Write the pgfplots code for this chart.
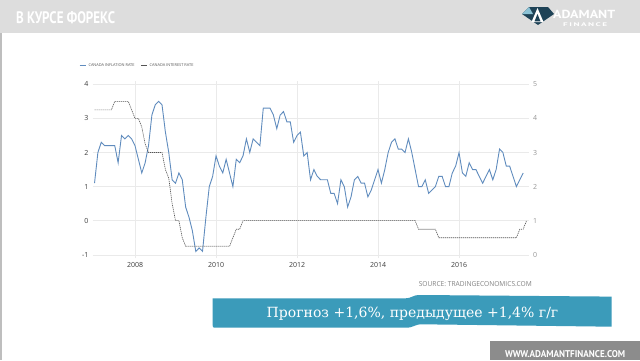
\documentclass[border=0pt]{standalone}
\usepackage{fontspec}
\setmainfont{Open Sans}
\newfontfamily\ptsans{PT Sans}
\newfontfamily\serifru{DejaVu Serif}
\usepackage{pgfplots}
\usepackage{pgfplotstable}
\pgfplotsset{compat=1.18}
\definecolor{headergray}{RGB}{221,221,221}
\definecolor{stripgray}{RGB}{190,190,190}
\definecolor{bannerblue}{RGB}{59,155,186}
\definecolor{footergray}{RGB}{140,140,140}
\definecolor{inflcol}{RGB}{96,140,190}
\definecolor{ratecol}{RGB}{85,85,85}
\definecolor{gridgray}{RGB}{234,234,234}
\definecolor{tickdark}{RGB}{60,60,60}
\definecolor{tickright}{RGB}{150,150,150}
\definecolor{srcgray}{RGB}{130,130,130}
\definecolor{gemdark}{RGB}{31,67,87}
\definecolor{gemlight}{RGB}{140,195,214}

\pgfplotstableread{
i infl rate
0 1.1 4.25
1 2.0 4.25
2 2.3 4.25
3 2.2 4.25
4 2.2 4.25
5 2.2 4.25
6 2.2 4.5
7 1.7 4.5
8 2.5 4.5
9 2.4 4.5
10 2.5 4.5
11 2.4 4.25
12 2.2 4.0
13 1.8 4.0
14 1.4 3.75
15 1.7 3.25
16 2.2 3.0
17 3.1 3.0
18 3.4 3.0
19 3.5 3.0
20 3.4 3.0
21 2.6 2.5
22 2.0 2.25
23 1.2 1.5
24 1.1 1.0
25 1.4 1.0
26 1.2 0.5
27 0.4 0.25
28 0.1 0.25
29 -0.3 0.25
30 -0.9 0.25
31 -0.8 0.25
32 -0.9 0.25
33 0.1 0.25
34 1.0 0.25
35 1.3 0.25
36 1.9 0.25
37 1.6 0.25
38 1.4 0.25
39 1.8 0.25
40 1.4 0.25
41 1.0 0.5
42 1.8 0.75
43 1.7 0.75
44 1.9 1.0
45 2.4 1.0
46 2.0 1.0
47 2.4 1.0
48 2.3 1.0
49 2.2 1.0
50 3.3 1.0
51 3.3 1.0
52 3.3 1.0
53 3.1 1.0
54 2.7 1.0
55 3.1 1.0
56 3.2 1.0
57 2.9 1.0
58 2.9 1.0
59 2.3 1.0
60 2.5 1.0
61 2.6 1.0
62 1.9 1.0
63 2.0 1.0
64 1.2 1.0
65 1.5 1.0
66 1.3 1.0
67 1.2 1.0
68 1.2 1.0
69 1.2 1.0
70 0.8 1.0
71 0.8 1.0
72 0.5 1.0
73 1.2 1.0
74 1.0 1.0
75 0.4 1.0
76 0.7 1.0
77 1.2 1.0
78 1.3 1.0
79 1.1 1.0
80 1.1 1.0
81 0.7 1.0
82 0.9 1.0
83 1.2 1.0
84 1.5 1.0
85 1.1 1.0
86 1.5 1.0
87 2.0 1.0
88 2.3 1.0
89 2.4 1.0
90 2.1 1.0
91 2.1 1.0
92 2.0 1.0
93 2.4 1.0
94 2.0 1.0
95 1.5 1.0
96 1.0 0.75
97 1.0 0.75
98 1.2 0.75
99 0.8 0.75
100 0.9 0.75
101 1.0 0.75
102 1.3 0.5
103 1.3 0.5
104 1.0 0.5
105 1.0 0.5
106 1.4 0.5
107 1.6 0.5
108 2.0 0.5
109 1.4 0.5
110 1.3 0.5
111 1.7 0.5
112 1.5 0.5
113 1.5 0.5
114 1.3 0.5
115 1.1 0.5
116 1.3 0.5
117 1.5 0.5
118 1.2 0.5
119 1.5 0.5
120 2.1 0.5
121 2.0 0.5
122 1.6 0.5
123 1.6 0.5
124 1.3 0.5
125 1.0 0.5
126 1.2 0.75
127 1.4 0.75
128 nan 1.0
}\data

\begin{document}
\begin{tikzpicture}[x=1pt,y=1pt]
\useasboundingbox (0,0) rectangle (640,360);
\fill[white] (0,0) rectangle (640,360);
% header
\fill[headergray] (0,327) rectangle (640,360);
\fill[stripgray] (0,0) rectangle (1.5,327);
\node[anchor=base west, inner sep=0, text=white] at (16,337)
  {\resizebox{99pt}{12pt}{\ptsans\bfseries В КУРСЕ ФОРЕКС}};
% logo
\fill[gemdark] (529,353) -- (548,353) -- (554,346) -- (538,335) -- (522,346) -- cycle;
\fill[gemlight] (522,346) -- (529,353) -- (533,346) -- cycle;
\fill[white] (537.5,352) -- (531.5,338) -- (543.5,338) -- cycle;
\fill[gemdark] (537.5,346) -- (534.5,338.6) -- (540.5,338.6) -- cycle;
\node[anchor=base west, inner sep=0, text=white] at (553,341.7)
  {\resizebox{62pt}{8.3pt}{\ptsans\bfseries ADAMANT}};
\node[anchor=base west, inner sep=0, text=white] at (563,334)
  {\resizebox{44pt}{3.8pt}{\ptsans\bfseries F\,I\,N\,A\,N\,C\,E}};

% chart
\begin{axis}[
  at={(92.9pt,101.8pt)}, anchor=south west,
  scale only axis, width=435.8pt, height=177.3pt,
  xmin=2006.96, xmax=2017.72, ymin=-1.1, ymax=4.1,
  axis y line*=left, axis x line*=bottom,
  axis line style={draw=none},
  major tick length=0pt,
  xtick={2008,2010,2012,2014,2016},
  xticklabels={2008,2010,2012,2014,2016},
  ytick={-1,0,1,2,3,4},
  yticklabels={-1,0,1,2,3,4},
  grid=major, grid style={gridgray, line width=0.5pt},
  tick label style={font=\fontsize{7}{8}\selectfont, text=tickdark},
  yticklabel style={xshift=-1pt},
  xticklabel style={yshift=-0.5pt},
  legend columns=2,
  legend style={at={(rel axis cs:-0.032,1.087)}, anchor=west,
    draw=none, fill=none, inner sep=0pt, text=ratecol,
    font=\fontsize{3.9}{4.5}\selectfont,
    /tikz/every even column/.append style={column sep=4pt}},
  legend image code/.code={\draw[#1] (0pt,0pt) -- (6.5pt,0pt);},
]
\addplot[inflcol, line width=0.9pt] table[x expr=2007+\thisrow{i}/12, y=infl]{\data};
\addlegendentry{CANADA INFLATION RATE}
\addlegendimage{ratecol, line width=0.6pt}
\addlegendentry{CANADA INTEREST RATE}
\end{axis}
\begin{axis}[
  at={(92.9pt,101.8pt)}, anchor=south west,
  scale only axis, width=435.8pt, height=177.3pt,
  xmin=2006.96, xmax=2017.72, ymin=-0.1, ymax=5.1,
  axis y line*=right, axis x line=none,
  axis line style={draw=none},
  major tick length=0pt,
  ytick={0,1,2,3,4,5},
  yticklabels={0,1,2,3,4,5},
  tick label style={font=\fontsize{7}{8}\selectfont, text=tickright},
  yticklabel style={xshift=1pt},
]
\addplot[ratecol, line width=0.6pt, dash pattern=on 1.2pt off 0.8pt] table[x expr=2007+\thisrow{i}/12, y=rate]{\data};
\end{axis}

\node[anchor=base east, inner sep=0, text=srcgray] at (532,74)
  {\resizebox{113pt}{5pt}{SOURCE: TRADINGECONOMICS.COM}};

% banner
\fill[bannerblue] (212.7,61.6) -- (405,61.6) .. controls (412,61.6) and (412,65) .. (420,65)
  -- (611.7,63.4) -- (611.7,33.3) -- (422,35.7) .. controls (414,35.7) and (414,32.3) .. (406,32.3)
  -- (214.5,32.3) .. controls (213,32.3) and (212.7,33) .. (212.7,34.5) -- cycle;
\node[anchor=base, inner sep=0, text=white] at (412.5,42.3)
  {\resizebox{291.6pt}{!}{\serifru\fontsize{17}{17}\selectfont Прогноз +1,6\%, предыдущее +1,4\% г/г}};

% footer
\fill[footergray] (490,0) rectangle (640,19);
\node[anchor=base west, inner sep=0, text=white] at (505,3)
  {\resizebox{120pt}{7pt}{\ptsans\bfseries WWW.ADAMANTFINANCE.COM}};
\end{tikzpicture}
\end{document}
